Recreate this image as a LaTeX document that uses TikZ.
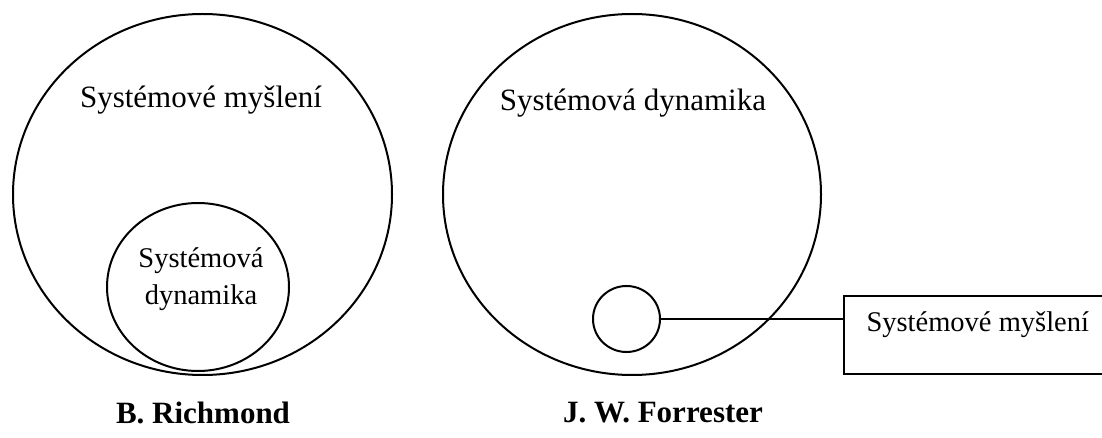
\documentclass[tikz,border=0pt]{standalone}
\usepackage{fontspec}
\setmainfont{Liberation Serif}
\usetikzlibrary{shapes.geometric, positioning}

\begin{document}
\begin{tikzpicture}[
    x=1pt, y=-1pt,
    ring/.style={ellipse, draw, line width=2pt, inner sep=0pt},
    bigtext/.style={font=\fontsize{31}{37}\selectfont, align=center},
    smalltext/.style={font=\fontsize{28.5}{37}\selectfont, align=center},
    author/.style={font=\fontsize{31}{37}\selectfont\bfseries}
]
\useasboundingbox (0,0) rectangle (1102,438);

% Richmond
\node[ring, minimum width=379pt, minimum height=361pt] (thinking) at (202.5,194.5) {};
\node[ring, minimum width=182pt, minimum height=168pt] (dynin) at (198,287) {};
\node[bigtext] (thinklabel) at (201,100) {Systémové myšlení};
\node[smalltext] (dyninlabel) at (201,279) {Systémová\\dynamika};
\node[author] (richmond) at (203,413) {B. Richmond};

% Forrester
\node[ring, minimum width=378pt, minimum height=361pt] (dynamics) at (632,194.5) {};
\node[ring, minimum width=67pt, minimum height=66pt] (thinkin) at (626.5,319) {};
\node[bigtext] (dynlabel) at (633,103) {Systémová dynamika};
\node[author] (forrester) at (663,413) {J. W. Forrester};

% Callout
\node[draw, line width=2pt, minimum width=266pt, minimum height=78pt, anchor=north west] (callout) at (843,295) {};
\node[smalltext, anchor=west] (calloutlabel) at (863,325) {Systémové myšlení};
\draw[line width=2pt] (thinkin.east) -- (thinkin.east -| callout.west);
\end{tikzpicture}
\end{document}
